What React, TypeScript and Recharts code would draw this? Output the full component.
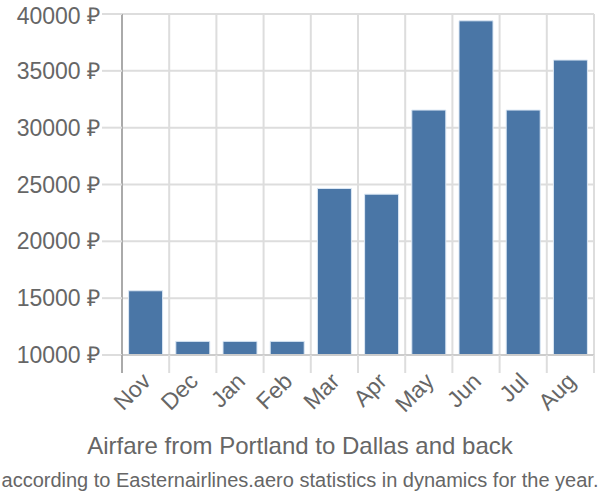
import React from "react";
import { BarChart, Bar, XAxis, YAxis, CartesianGrid } from "recharts";

const months = ["Nov", "Dec", "Jan", "Feb", "Mar", "Apr", "May", "Jun", "Jul", "Aug"];
const prices = [15650, 11200, 11200, 11200, 24650, 24150, 31550, 39400, 31550, 35950];
const yTicks = [10000, 15000, 20000, 25000, 30000, 35000, 40000];
const title = "Airfare from Portland to Dallas and back";
const subtitle = "according to Easternairlines.aero statistics in dynamics for the year.";

const data = months.map((m, i) => ({ month: m, price: prices[i] }));

const FONT = "'Liberation Sans', Arial, sans-serif";
const GRID = "#dddddd";

const XTick = (props: any) => {
  const { x, y, payload, index } = props;
  const half = payload && payload.offset ? payload.offset : 0;
  const top = y - 8;
  const ax = x + 1;
  const ay = y + 14;
  return (
    <g>
      <line x1={x - half} x2={x - half} y1={top} y2={top + 18} stroke={index === 0 ? "#aaaaaa" : GRID} strokeWidth={2} />
      {index === months.length - 1 && (
        <line x1={x + half} x2={x + half} y1={top} y2={top + 18} stroke={GRID} strokeWidth={2} />
      )}
      <text
        x={ax}
        y={ay}
        transform={`rotate(-45 ${ax} ${ay})`}
        textAnchor="end"
        dominantBaseline="central"
        fill="#666666"
        fontSize={23}
        fontFamily={FONT}
      >
        {payload.value}
      </text>
    </g>
  );
};

export default function App() {
  return (
    <div style={{ position: "absolute", left: 0, top: 0, width: 600, height: 500, background: "#fff" }}>
      <BarChart
        width={600}
        height={500}
        data={data}
        margin={{ top: 14, right: 6, left: 0, bottom: 0 }}
        barCategoryGap="14%"
      >
        <CartesianGrid
          stroke={GRID}
          strokeWidth={2}
          verticalCoordinatesGenerator={({ offset }: any) =>
            months.map((_, i) => offset.left + (i * offset.width) / months.length).concat([offset.left + offset.width])
          }
        />
        <XAxis
          dataKey="month"
          interval={0}
          height={145}
          tickLine={false}
          axisLine={{ stroke: "#cccccc", strokeWidth: 2 }}
          tick={<XTick />}
        />
        <YAxis
          domain={[10000, 40000]}
          ticks={yTicks}
          width={122}
          tickSize={20}
          tickMargin={2}
          tickLine={{ stroke: GRID, strokeWidth: 2 }}
          axisLine={{ stroke: "#aaaaaa", strokeWidth: 2 }}
          tickFormatter={(v: number) => `${v} ₽`}
          tick={{ fill: "#666666", fontSize: 23, fontFamily: FONT }}
        />
        <Bar dataKey="price" fill="#4a76a6" stroke="#dce8f5" strokeWidth={1} isAnimationActive={false} />
      </BarChart>
      <svg width={600} height={500} style={{ position: "absolute", left: 0, top: 0, pointerEvents: "none" }}>
        <text x={300} y={454} textAnchor="middle" fill="#666666" fontSize={24} fontFamily={FONT}>
          {title}
        </text>
        <text x={300} y={487} textAnchor="middle" fill="#666666" fontSize={20} fontFamily={FONT}>
          {subtitle}
        </text>
      </svg>
    </div>
  );
}
